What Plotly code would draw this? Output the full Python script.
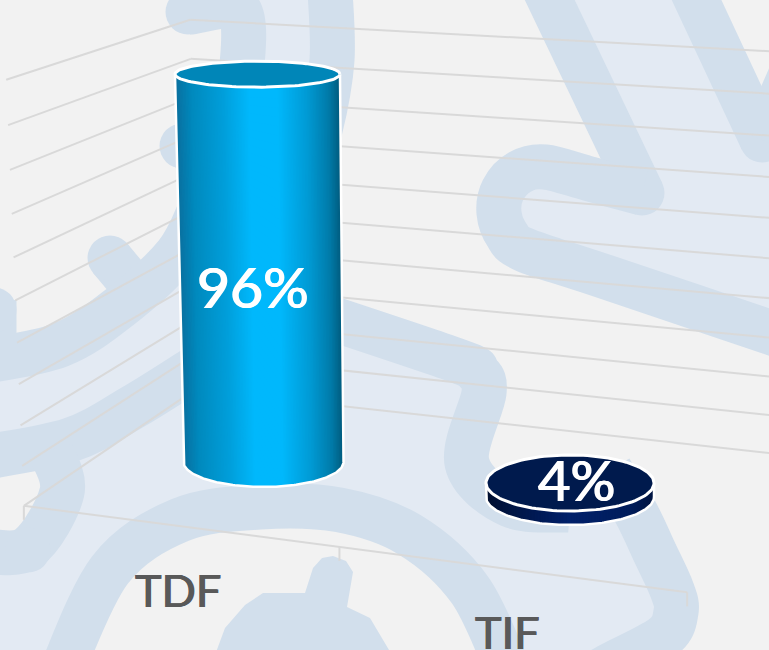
import numpy as np
import plotly.graph_objects as go

# ---- data ----
categories = ["TDF", "TIF"]
values = [96, 4]
labels = ["96%", "4%"]
grid_levels = [0, 10, 20, 30, 40, 50, 60, 70, 80, 90, 100]

# ---- styling ----
BG = "#f2f2f2"
LIGHT = "#e3eaf3"
DARK = "#d2dfec"
GRID = "#d9d9d9"
TEXT = "#595959"
side_stops = [
    [(0, "#0a6f9e"), (.1, "#0089bd"), (.3, "#00a0dc"), (.45, "#00b8fc"), (.62, "#00b8fc"),
     (.8, "#009ad4"), (.93, "#007aa8"), (1, "#005a7c")],
    [(0, "#000f30"), (.15, "#001544"), (.5, "#00206a"), (.85, "#001d5c"), (1, "#001440")],
]
top_colors = ["#0086b8", "#001a4d"]
label_pos = [(253, 286), (576, 479)]
cat_label_pos = [(178, 590), (507, 632)]

# cylinder scale: base ellipse per category and its change per percentage point
base_center = [(263.5, 462), (570, 497)]
center_per_pct = [(-0.0625, -4.04), (0, -3.5)]
base_radius = [(80, 25), (84, 28)]
radius_per_pct = [(0.026, -0.125), (0, 0)]

# ---- perspective calibration of walls: (cat, depth, pct) -> pixels ----
wall_cal = [
    ((0, 0, 0), (26, 506)), ((1, 0, 0), (338, 548)), ((2, 0, 0), (685, 592)),
    ((0, 1, 0), (190, 388)), ((0, 1, 1), (193, 22)), ((0, 0, 1), (5, 78)),
    ((.5, .5, 0), (263.5, 462)), ((1.5, .5, 0), (570, 497)),
    ((.5, .5, .96), (257.5, 73)), ((1.5, .5, .04), (570, 483)),
]
wall_lines = [
    ((2, 1, 0), (190, 388), (769, 452)),
    ((2, 1, 1), (193, 22), (769, 51)),
]


def fit(points, lines=()):
    S = 700.0
    A, b = [], []
    for X, (u, v) in points:
        h = [*X, 1]
        u, v = u / S, v / S
        A.append(h + [0] * 4 + [-u * c for c in X]); b.append(u)
        A.append([0] * 4 + h + [-v * c for c in X]); b.append(v)
    for X, p, q in lines:
        h = np.array([*X, 1.0])
        p, q = np.array(p) / S, np.array(q) / S
        a_, b_ = p[1] - q[1], q[0] - p[0]
        c_ = p[0] * q[1] - q[0] * p[1]
        A.append(list(a_ * h) + list(b_ * h) + list(c_ * h[:3])); b.append(-c_)
    s = np.linalg.lstsq(np.array(A), np.array(b), rcond=None)[0]
    M = np.array(list(s) + [1.0]).reshape(3, 4)
    M[:2] *= S
    return M


P_wall = fit(wall_cal, wall_lines)


def proj(P, x, y, z):
    x, y, z = np.broadcast_arrays(np.asarray(x, float), np.asarray(y, float), np.asarray(z, float))
    H = np.stack([x, y, z, np.ones_like(x)])
    r = P @ H
    return r[0] / r[2], r[1] / r[2]


def cyl_point(i, pct, theta):
    """Pixel position on category i's cylinder at height pct and angle theta."""
    pct = np.asarray(pct, float)
    cx = base_center[i][0] + center_per_pct[i][0] * pct
    cy = base_center[i][1] + center_per_pct[i][1] * pct
    a = base_radius[i][0] + radius_per_pct[i][0] * pct
    b = base_radius[i][1] + radius_per_pct[i][1] * pct
    return cx + a * np.cos(theta), cy - b * np.sin(theta)


def lerp_color(stops, t):
    for (t0, c0), (t1, c1) in zip(stops, stops[1:]):
        if t <= t1:
            f = (t - t0) / (t1 - t0)
            a = [int(c0[i:i + 2], 16) for i in (1, 3, 5)]
            b = [int(c1[i:i + 2], 16) for i in (1, 3, 5)]
            return "rgb(%d,%d,%d)" % tuple(round(p + (q - p) * f) for p, q in zip(a, b))
    return stops[-1][1]


# ---- background artwork ----
def smooth(pts):
    pts = [tuple(map(float, p)) for p in pts]
    d = f"M {pts[0][0]} {pts[0][1]}"
    n = len(pts)
    for i in range(n - 1):
        p0 = pts[max(i - 1, 0)]; p1 = pts[i]; p2 = pts[i + 1]; p3 = pts[min(i + 2, n - 1)]
        c1 = (p1[0] + (p2[0] - p0[0]) / 6, p1[1] + (p2[1] - p0[1]) / 6)
        c2 = (p2[0] - (p3[0] - p1[0]) / 6, p2[1] - (p3[1] - p1[1]) / 6)
        d += f" C {c1[0]:.1f} {c1[1]:.1f} {c2[0]:.1f} {c2[1]:.1f} {p2[0]} {p2[1]}"
    return d


def poly(pts, color):
    d = "M " + " L ".join(f"{x} {y}" for x, y in pts) + " Z"
    return dict(type="path", path=d, fillcolor=color, line=dict(width=0), layer="below")


def stroke(pts, caps=(), width=45):
    out = [dict(type="path", path=smooth(pts), line=dict(color=DARK, width=width),
                fillcolor="rgba(0,0,0,0)", layer="below")]
    r = width / 2
    for cx, cy in caps:
        out.append(dict(type="circle", x0=cx - r, x1=cx + r, y0=cy - r, y1=cy + r,
                        fillcolor=DARK, line=dict(width=0), layer="below"))
    return out


shapes = [
    poly([(545, -5), (700, -5), (775, 150), (775, 330), (525, 250), (503, 190), (545, 167), (642, 193)], LIGHT),
    poly([(250, -5), (330, -5), (330, 160), (250, 160)], LIGHT),
    poly([(0, 360), (60, 345), (120, 305), (176, 255), (200, 255), (200, 400), (133, 407), (70, 440), (0, 455)], LIGHT),
    poly([(60, 470), (180, 385), (200, 320), (340, 320), (455, 360), (483, 390), (468, 465), (510, 505),
          (636, 513), (672, 590), (676, 612), (663, 637), (590, 675), (500, 655), (470, 590), (410, 535), (340, 510),
          (260, 507), (180, 520), (110, 570), (75, 655), (-5, 655), (-5, 560), (25, 545)], LIGHT),
]
shapes += stroke([(544, -12), (642, 193)], caps=[(642, 193)])
shapes += stroke([(642, 193), (590, 179), (545, 167), (520, 172), (503, 190), (499, 213),
                  (507, 235), (525, 250), (600, 275), (790, 339)])
shapes += stroke([(690, -14), (762, 140)], caps=[(762, 140)])
shapes += stroke([(762, 140), (804, 45)])
shapes += stroke([(330, -10), (332, 60), (320, 130), (305, 170)])
shapes += stroke([(190, 12), (240, 12), (240, 90)], caps=[(188, 12)])
shapes += stroke([(182, 146), (230, 160)], caps=[(182, 146)])
shapes += stroke([(110, 258), (145, 300)], caps=[(110, 258)])
shapes += stroke([(-20, 362), (60, 345), (120, 307), (176, 255), (200, 210)])
shapes += stroke([(-6, 300), (-6, 365)], caps=[(-6, 310)])
shapes += stroke([(-20, 458), (70, 440), (133, 407), (200, 365)])
shapes += stroke([(50, 450), (62, 492), (28, 548), (-20, 550)], caps=[(28, 550)])
shapes += stroke([(60, 675), (110, 570), (180, 520), (260, 507), (340, 510), (410, 535), (470, 590), (510, 675)])
shapes.append(poly([(215, 655), (225, 628), (245, 605), (263, 593), (305, 593), (313, 568), (322, 558), (333, 556),
                    (346, 561), (353, 572), (347, 607), (370, 618), (392, 655)], DARK))
shapes += stroke([(300, 308), (455, 360), (477, 372), (484, 393), (467, 463), (510, 505), (570, 510)])
shapes += stroke([(610, 470), (636, 513), (655, 553), (672, 590), (676, 612), (663, 637), (605, 668), (560, 695)])

fig = go.Figure()


def add_line(xs, ys, color=GRID, width=2):
    fig.add_trace(go.Scatter(x=xs, y=ys, mode="lines", line=dict(color=color, width=width),
                             hoverinfo="skip", showlegend=False))


# ---- gridlines ----
depth = np.array([0.0, 1.0])
xback = np.array([0.0, 2.6])
for lv in grid_levels:
    z = lv / 100
    xs, ys = proj(P_wall, np.zeros(2), depth, z)
    add_line(xs, ys)
    xs, ys = proj(P_wall, xback, np.ones(2), z)
    add_line(xs, ys)
xs, ys = proj(P_wall, np.array([0.0, 2.0]), np.zeros(2), 0)
add_line(xs, ys)
for c in range(len(categories) + 1):
    x0, y0 = proj(P_wall, c, 0, 0)
    add_line([float(x0), float(x0)], [float(y0), float(y0) + 14])

# ---- cylinders ----
N = 110
for i, v in enumerate(values):
    ts = np.linspace(0, 1, N + 1)
    ths = 2 * np.pi - np.arccos(2 * ts - 1)
    for k in range(N):
        # each strip overlaps the next one, which is painted over it, so no seams appear
        seg = ths[k:min(k + 3, N + 1)]
        ang = np.concatenate([seg, seg[::-1], seg[:1]])
        zz = np.concatenate([np.zeros(len(seg)), np.full(len(seg), v), [0]])
        xs, ys = cyl_point(i, zz, ang)
        col = lerp_color(side_stops[i], (ts[k] + ts[k + 1]) / 2)
        fig.add_trace(go.Scatter(x=xs, y=ys, mode="lines", fill="toself", fillcolor=col,
                                 line=dict(color=col, width=0), hoverinfo="skip", showlegend=False))
    # white outline of the body
    th = np.linspace(np.pi, 2 * np.pi, 121)
    ang = np.concatenate([[np.pi], th, [2 * np.pi]])
    zz = np.concatenate([[v], np.zeros(121), [v]])
    xs, ys = cyl_point(i, zz, ang)
    add_line(xs, ys, "#ffffff", 2.5)
    # top face
    tt = np.linspace(0, 2 * np.pi, 121)
    xs, ys = cyl_point(i, np.full(121, v), tt)
    fig.add_trace(go.Scatter(x=xs, y=ys, mode="lines", fill="toself", fillcolor=top_colors[i],
                             line=dict(color="#ffffff", width=3), hoverinfo="skip", showlegend=False))

annotations = []
for (x, y), t, s in zip(label_pos, labels, (57, 56)):
    annotations.append(dict(x=x, y=y, xref="x", yref="y", text=t, showarrow=False,
                            font=dict(family="Lato", size=s, color="#ffffff",
                                      shadow="0.7px 0 0 #ffffff, -0.7px 0 0 #ffffff")))
for (x, y), t in zip(cat_label_pos, categories):
    annotations.append(dict(x=x, y=y, xref="x", yref="y", text=t, showarrow=False,
                            font=dict(family="Lato", size=45, color=TEXT,
                                      shadow="0.6px 0 0 #595959, -0.6px 0 0 #595959")))

fig.update_layout(
    width=769, height=650, margin=dict(l=0, r=0, t=0, b=0),
    paper_bgcolor=BG, plot_bgcolor=BG, showlegend=False,
    xaxis=dict(range=[0, 769], visible=False, fixedrange=True),
    yaxis=dict(range=[650, 0], visible=False, fixedrange=True),
    shapes=shapes, annotations=annotations,
)
fig.write_html("out.html", config=dict(displayModeBar=False),
               post_script="document.body.style.margin='0';document.body.style.overflow='hidden';")
